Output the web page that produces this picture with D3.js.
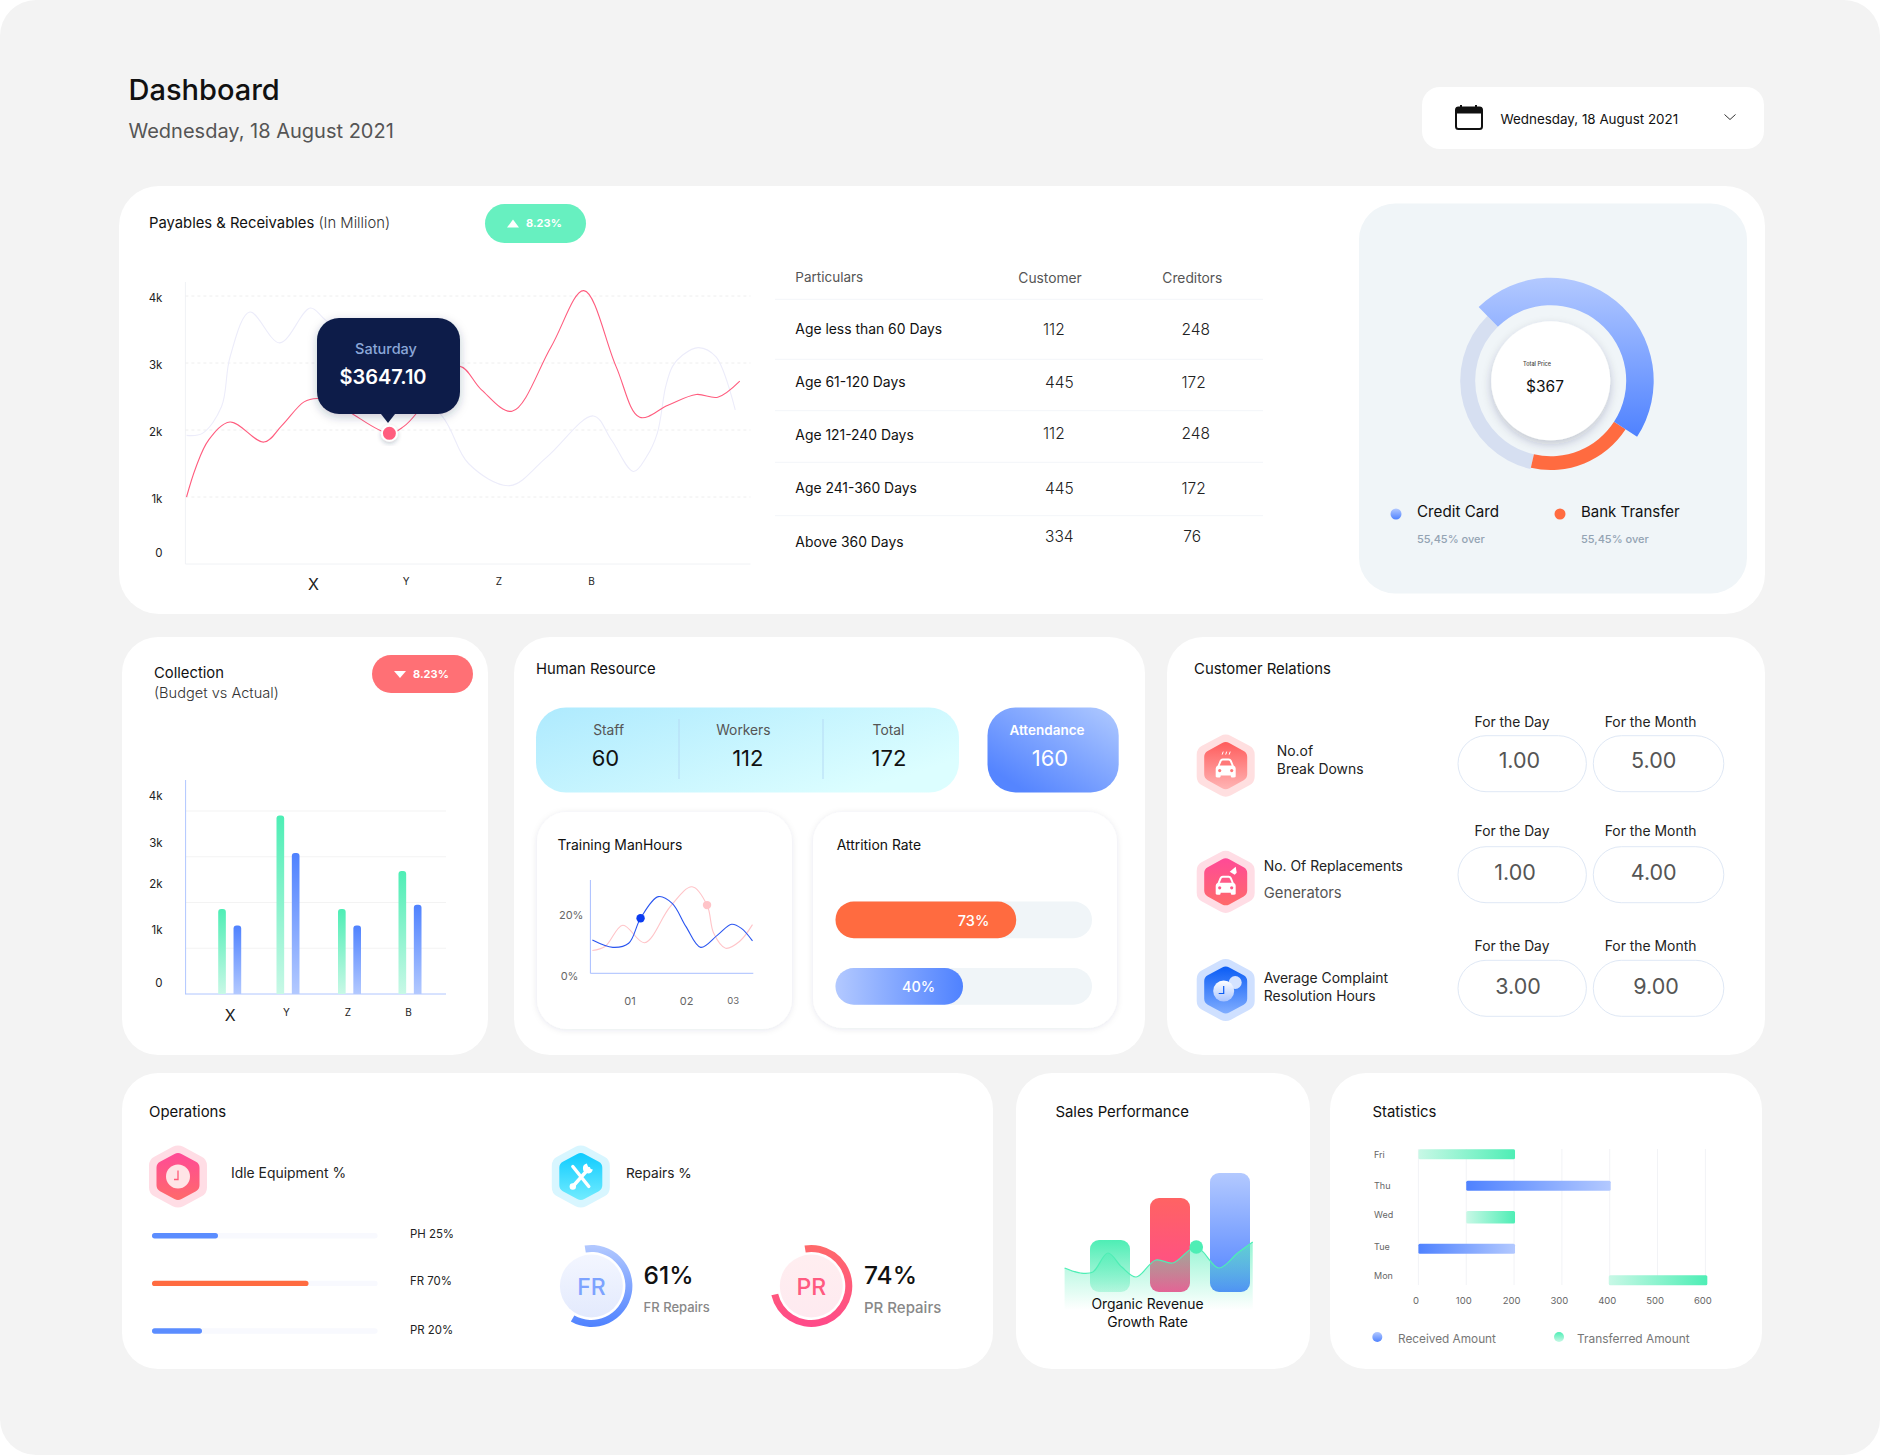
<!DOCTYPE html>
<html>
<head>
<meta charset="utf-8">
<title>Dashboard</title>
<script src="https://cdn.jsdelivr.net/npm/d3@7"></script>
<style>
  html, body { margin: 0; padding: 0; background: #fff; }
  svg { display: block; }
  text { font-family: Inter, "Noto Sans", sans-serif; }
  .domain { display: none; }
</style>
</head>
<body>
<div id="my_dataviz"></div>
<script>
// Payables & Receivables, t is a 0-100 position along the x axis, values in thousands
const payRedT = [0.2, 1.8, 4.1, 7.9, 13.9, 17.1, 21, 23.3, 26.3, 29.4, 36.1, 38.6, 40.9, 44, 48.6, 52.4, 57.8, 64.7, 70.5, 76.2, 80.4, 85.4, 90.4, 94.2, 98.1];
const payRed = [1.0, 1.43, 1.85, 2.12, 1.82, 2.07, 2.42, 2.47, 2.42, 2.25, 1.95, 2.05, 2.25, 2.65, 2.95, 2.6, 2.28, 3.24, 4.08, 2.95, 2.19, 2.37, 2.53, 2.49, 2.73];
const payFaintT = [0.2, 3, 6.4, 7.9, 11.4, 16.7, 22.1, 24.8, 34.8, 45.5, 50.1, 57.4, 64, 72.2, 75.4, 79.3, 81.6, 83.5, 85, 86.2, 88, 90.8, 93.9, 97.3];
const payFaint = [1.92, 1.95, 2.35, 3.09, 3.76, 3.3, 3.82, 3.64, 3.0, 2.2, 1.5, 1.17, 1.6, 2.21, 1.85, 1.38, 1.6, 1.95, 2.65, 2.95, 3.12, 3.23, 3.09, 2.3];
const markerIndex = 10;
const periodLabels = ["X", "Y", "Z", "B"];
const kTicks = [0, 1, 2, 3, 4];

// Table
const tableRows = ["Age less than 60 Days", "Age 61-120 Days", "Age 121-240 Days", "Age 241-360 Days", "Above 360 Days"];
const tableCustomer = [112, 445, 112, 445, 334];
const tableCreditors = [248, 172, 248, 172, 76];

// Donut, shares of the full circle in percent
const donutNames = ["Credit Card", "Bank Transfer", "Other"];
const donutShares = [46.5, 19.4, 34.1];

// Collection
const collectionBudget = [1.86, 3.9, 1.86, 2.69];
const collectionActual = [1.5, 3.08, 1.5, 1.95];

// Human resource
const hrLabels = ["Staff", "Workers", "Total"];
const hrValues = [60, 112, 172];
const hrAttendance = 160;
const trainBlueT = [0.12, 1.38, 2.35, 3.08, 4.17, 5.02, 5.87, 6.77, 7.82, 8.67, 9.27, 9.95];
const trainBlue = [11.4, 8.9, 10.3, 18.9, 26.3, 24, 16, 8.9, 13.2, 16.8, 15.4, 11.1];
const trainPinkT = [0.12, 0.9, 1.99, 3.33, 4.9, 6.24, 7.16, 7.57, 8.3, 9.15, 9.95];
const trainPink = [7.8, 9.2, 16.5, 10.5, 22.9, 29.7, 23.4, 13.7, 8.6, 10.9, 16.7];
const attrition = [73, 40];

// Customer relations
const crDay = ["1.00", "1.00", "3.00"];
const crMonth = ["5.00", "4.00", "9.00"];

// Operations
const idleLabels = ["PH 25%", "FR 70%", "PR 20%"];
const idleValues = [25, 70, 20];
const repairs = [61, 74];

// Sales performance
const salesBars = [52, 94, 119];
const salesLineT = [0, 8.5, 15, 23, 30.4, 38, 48.5, 57.5, 70, 82, 92, 100];
const salesLine = [24, 19, 20, 39, 25, 15, 32, 29, 45, 24, 39, 50];

// Statistics
const statDays = ["Fri", "Thu", "Wed", "Tue", "Mon"];
const statFrom = [0, 100, 100, 0, 398];
const statTo = [202, 402, 202, 202, 604];
const statKind = ["transferred", "received", "transferred", "received", "transferred"];
const statTicks = [0, 100, 200, 300, 400, 500, 600];

const W = 1880, H = 1455;
const green = "#4eeeb5", greenPale = "#c8f8e6", blue = "#4f82ff", bluePale = "#b3c9ff", orange = "#ff6b40";
const medium = 400;

const svg = d3.select("#my_dataviz").append("svg").attr("width", W).attr("height", H);
const defs = svg.append("defs");

function gradient(id, x1, y1, x2, y2, c1, c2) {
  const g = defs.append("linearGradient").attr("id", id)
    .attr("x1", x1).attr("y1", y1).attr("x2", x2).attr("y2", y2);
  g.append("stop").attr("offset", "0%").attr("stop-color", c1);
  g.append("stop").attr("offset", "100%").attr("stop-color", c2);
}
gradient("gGreenV", 0, 0, 0, 1, green, greenPale);
gradient("gBlueV", 0, 0, 0, 1, blue, bluePale);
gradient("gBlueVr", 0, 0, 0, 1, bluePale, blue);
gradient("gGreenH", 0, 0, 1, 0, greenPale, green);
gradient("gBlueH", 0, 0, 1, 0, blue, bluePale);
gradient("gBlueHr", 0, 0, 1, 0, bluePale, blue);
gradient("gPanel", 0, 0, 1, 0.6, "#aeeafe", "#dcfeff");
gradient("gAttend", 0.15, 0.85, 0.95, 0.05, "#5585ff", "#abc6ff");
gradient("gRed", 0, 0, 0, 1, "#ff6363", "#ff4a8f");
gradient("gPinkRing", 0, 0, 0, 1, "#ff6a6a", "#ff4a8a");
gradient("gArea", 0, 0, 0, 1, "rgba(78,238,181,0.6)", "rgba(78,238,181,0)");
gradient("gFrDisc", 0, 0, 0, 1, "#f3f6ff", "#e3eafd");
gradient("gPrDisc", 0, 0, 0, 1, "#ffeef0", "#feeaf0");
gradient("gHexRed", 0, 0, 0, 1, "#ff5c5c", "#ffb4b4");
gradient("gHexPink", 0, 0, 0, 1, "#ff4a97", "#ff6a6a");
gradient("gHexBlue", 0, 0, 0, 1, "#0a5cf5", "#80adff");
gradient("gHexCyan", 0, 0, 0, 1, "#0ecbff", "#72ecff");
gradient("gPaleDisc", 0, 0, 0, 1, "#ffffff", "#aac5ff");

function shadow(id, dy, blur, opacity) {
  defs.append("filter").attr("id", id)
    .attr("x", "-30%").attr("y", "-30%").attr("width", "160%").attr("height", "160%")
    .append("feDropShadow").attr("dx", 0).attr("dy", dy).attr("stdDeviation", blur)
    .attr("flood-color", "#1a2a50").attr("flood-opacity", opacity);
}
shadow("shTip", 3, 5, 0.25);
shadow("shDisc", 4, 5, 0.22);
shadow("shPanel", 1, 3, 0.1);
shadow("shDot", 2, 2, 0.25);

function label(g, x, y, s, size, opt) {
  opt = opt || {};
  return g.append("text").attr("x", x).attr("y", y + 0.8).text(s)
    .attr("font-size", size)
    .attr("font-weight", opt.weight || 400)
    .attr("fill", opt.fill || "#111")
    .attr("text-anchor", opt.anchor || "start");
}

function box(g, x0, y0, x1, y1, r, fill) {
  return g.append("rect").attr("x", x0).attr("y", y0)
    .attr("width", x1 - x0).attr("height", y1 - y0).attr("rx", r).attr("fill", fill);
}

// bar with only the top corners rounded
function topRound(x, y, w, h, r) {
  return "M" + x + "," + (y + h) + "V" + (y + r) + "Q" + x + "," + y + " " + (x + r) + "," + y +
    "H" + (x + w - r) + "Q" + (x + w) + "," + y + " " + (x + w) + "," + (y + r) + "V" + (y + h) + "Z";
}

function hexPath(cx, cy, w, h, r) {
  const pts = [[0, -h / 2], [w / 2, -h * 0.26], [w / 2, h * 0.26], [0, h / 2], [-w / 2, h * 0.26], [-w / 2, -h * 0.26]]
    .map(p => [cx + p[0], cy + p[1]]);
  let d = "";
  pts.forEach((p, i) => {
    const a = pts[(i + 5) % 6], b = pts[(i + 1) % 6];
    const la = Math.hypot(a[0] - p[0], a[1] - p[1]), lb = Math.hypot(b[0] - p[0], b[1] - p[1]);
    const p1 = [p[0] + (a[0] - p[0]) * r / la, p[1] + (a[1] - p[1]) * r / la];
    const p2 = [p[0] + (b[0] - p[0]) * r / lb, p[1] + (b[1] - p[1]) * r / lb];
    d += (i ? "L" : "M") + p1[0] + "," + p1[1] + "Q" + p[0] + "," + p[1] + " " + p2[0] + "," + p2[1];
  });
  return d + "Z";
}

function hexIcon(cx, cy, outerFill, innerFill) {
  const g = svg.append("g");
  g.append("path").attr("d", hexPath(cx, cy, 58, 65, 6)).attr("fill", outerFill);
  g.append("path").attr("d", hexPath(cx, cy, 43, 49, 4)).attr("fill", innerFill);
  return g.append("g").attr("transform", "translate(" + cx + "," + cy + ")");
}

function carIcon(g, windowFill) {
  g.append("path").attr("fill", "#fff")
    .attr("d", "M-10,9V1Q-10,-1 -8,-2L-6,-7Q-5,-9 -3,-9H3Q5,-9 6,-7L8,-2Q10,-1 10,1V9Q10,10 8,10H6Q5,10 5,8H-5Q-5,10 -6,10H-8Q-10,10 -10,9Z");
  g.append("path").attr("fill", windowFill).attr("d", "M-6,-2L-4,-6.5Q-3.5,-7 -3,-7H3Q3.5,-7 4,-6.5L6,-2Z");
  g.append("circle").attr("cx", -6).attr("cy", 3).attr("r", 1.6).attr("fill", windowFill);
  g.append("circle").attr("cx", 6).attr("cy", 3).attr("r", 1.6).attr("fill", windowFill);
}

function pill(x0, y0, x1, y1, fill, up, textX) {
  box(svg, x0, y0, x1, y1, (y1 - y0) / 2, fill);
  const cx = textX - 13, cy = (y0 + y1) / 2;
  svg.append("path").attr("fill", "#fff")
    .attr("d", up ? "M" + (cx - 6) + "," + (cy + 4) + "L" + cx + "," + (cy - 4) + "L" + (cx + 6) + "," + (cy + 4) + "Z"
                  : "M" + (cx - 6) + "," + (cy - 3) + "L" + cx + "," + (cy + 4) + "L" + (cx + 6) + "," + (cy - 3) + "Z");
  label(svg, textX, cy + 3, "8.23%", 11, {weight: 700, fill: "#fff"});
}

// page and header
box(svg, 0, 0, W, H, 36, "#f3f3f3");
label(svg, 128.5, 99, "Dashboard", 29, {weight: 500});
label(svg, 128.5, 137.5, "Wednesday, 18 August 2021", 20, {fill: "#555"});

box(svg, 1422, 87, 1764, 149, 18, "#fff");
const cal = svg.append("g");
cal.append("rect").attr("x", 1456).attr("y", 107.5).attr("width", 26).attr("height", 21.5).attr("rx", 2.5)
  .attr("fill", "#fff").attr("stroke", "#111").attr("stroke-width", 2);
cal.append("rect").attr("x", 1456).attr("y", 107.5).attr("width", 26).attr("height", 6).attr("fill", "#111");
cal.append("rect").attr("x", 1460).attr("y", 105).attr("width", 2).attr("height", 4).attr("fill", "#111");
cal.append("rect").attr("x", 1475).attr("y", 105).attr("width", 2).attr("height", 4).attr("fill", "#111");
label(svg, 1500.5, 123, "Wednesday, 18 August 2021", 13.4);
svg.append("path").attr("d", "M1724.5,114.5L1730,119.5L1735.5,114.5").attr("fill", "none").attr("stroke", "#333");

// cards
box(svg, 119, 186, 1765, 614, 40, "#fff");
box(svg, 122, 637, 488, 1055, 36, "#fff");
box(svg, 514, 637, 1145, 1055, 36, "#fff");
box(svg, 1167, 637, 1765, 1055, 36, "#fff");
box(svg, 122, 1073, 993, 1369, 36, "#fff");
box(svg, 1016, 1073, 1310, 1369, 36, "#fff");
box(svg, 1330, 1073, 1762, 1369, 36, "#fff");

// ---- Payables & Receivables ----
const t1 = label(svg, 149, 227, "Payables & Receivables ", 14.8, {weight: medium});
t1.append("tspan").text("(In Million)").attr("font-weight", 300).attr("fill", "#333");
pill(485, 204, 586, 243, "#67f0c0", true, 526);

const payX = d3.scaleLinear().domain([0, 100]).range([185.4, 750.5]);
const payY = d3.scaleLinear().domain([0, 4]).range([564, 296]);
const payPeriod = d3.scalePoint().domain(periodLabels).range([313, 591]);

const payG = svg.append("g");
payG.append("line").attr("x1", payX(0)).attr("x2", payX(0)).attr("y1", 282).attr("y2", 564).attr("stroke", "#f0f2f5");
payG.append("line").attr("x1", payX(0)).attr("x2", payX(100)).attr("y1", 564).attr("y2", 564).attr("stroke", "#f0f2f5");
payG.selectAll(".grid").data(kTicks.slice(1)).enter().append("line")
  .attr("x1", payX(0)).attr("x2", payX(100))
  .attr("y1", d => payY(d)).attr("y2", d => payY(d))
  .attr("stroke", "#eeeeee").attr("stroke-dasharray", "3,3");

payG.append("g").attr("transform", "translate(" + payX(0) + ",0)")
  .call(d3.axisLeft(payY).tickValues(kTicks).tickSize(0).tickPadding(23).tickFormat(d => d ? d + "k" : "0"))
  .selectAll("text").attr("font-size", 11.5).attr("font-weight", medium).attr("fill", "#222")
  .attr("font-family", "Inter").attr("y", d => d ? 2 : -11);
payG.append("g").attr("transform", "translate(0,564)")
  .call(d3.axisBottom(payPeriod).tickSize(0).tickPadding(13.5))
  .selectAll("text").attr("font-family", "Inter").attr("fill", "#222")
  .attr("font-size", d => d === "X" ? 16 : 10).attr("dy", d => d === "X" ? "0.75em" : "0.71em");

const payLine = d3.line().curve(d3.curveCatmullRom.alpha(0.5));
payG.append("path")
  .attr("d", payLine(payFaint.map((v, i) => [payX(payFaintT[i]), payY(v)])))
  .attr("fill", "none").attr("stroke", "#ececfa").attr("stroke-width", 1.1);
payG.append("path")
  .attr("d", payLine(payRed.map((v, i) => [payX(payRedT[i]), payY(v)])))
  .attr("fill", "none").attr("stroke", "#ff5c7e").attr("stroke-width", 1.1);

const markX = payX(payRedT[markerIndex]), markY = payY(payRed[markerIndex]);
payG.append("circle").attr("cx", markX).attr("cy", markY).attr("r", 7.5)
  .attr("fill", "#ff5c7e").attr("stroke", "#fff").attr("stroke-width", 2).attr("filter", "url(#shDot)");

// tooltip
const tip = svg.append("g");
box(tip, 317, 318, 460, 414, 22, "#0f1d49").attr("filter", "url(#shTip)");
tip.append("path").attr("d", "M381,414L388,423L395,414Z").attr("fill", "#0f1d49");
label(tip, 386, 353, "Saturday", 14.5, {weight: 500, fill: "#8ba7d8", anchor: "middle"});
label(tip, 383, 383, "$3647.10", 20, {weight: 600, fill: "#fff", anchor: "middle"});

// ---- table ----
label(svg, 795.3, 281, "Particulars", 13.5, {fill: "#555"});
label(svg, 1018.3, 282, "Customer", 13.8, {weight: medium, fill: "#555"});
label(svg, 1162.3, 282, "Creditors", 13.8, {weight: medium, fill: "#555"});
const ruleY = [299.3, 359.3, 410.7, 462.3, 515.7];
const rowY = [332.7, 385.7, 438.7, 491.7, 545.7];
const custY = [334, 387, 438, 493, 541];
svg.selectAll(".rule").data(ruleY).enter().append("line")
  .attr("x1", 775).attr("x2", 1263).attr("y1", d => d).attr("y2", d => d)
  .attr("stroke", "#f3f6f9");
tableRows.forEach((r, i) => {
  label(svg, 795.3, rowY[i], r, 13.9, {weight: medium});
  label(svg, tableCustomer[i] === 112 ? 1043 : 1045, custY[i], tableCustomer[i], 15.5, {weight: 300, fill: "#222"});
  label(svg, tableCreditors[i] === 76 ? 1183.3 : 1181.5, custY[i], tableCreditors[i], 15.5, {weight: 300, fill: "#222"});
});

// ---- donut ----
box(svg, 1359, 203.5, 1747, 593.5, 36, "#f0f5f8");
const donutG = svg.append("g").attr("transform", "translate(1550.7,380.7)");
const pie = d3.pie().sort(null).startAngle(-44.4 * Math.PI / 180).endAngle((360 - 44.4) * Math.PI / 180);
const donutArcs = pie(donutShares);
const donutInner = [75.5, 75.5, 75.5];
const donutOuter = [103, 89.3, 90.5];
const donutFill = ["url(#gBlueVr)", orange, "#d6dff1"];
[2, 1, 0].forEach(i => {
  donutG.append("path")
    .attr("d", d3.arc().innerRadius(donutInner[i]).outerRadius(donutOuter[i])(donutArcs[i]))
    .attr("fill", donutFill[i]);
});
svg.append("circle").attr("cx", 1550.7).attr("cy", 380.7).attr("r", 59.5).attr("fill", "#fff").attr("filter", "url(#shDisc)");
label(svg, 1537, 365.5, "Total Price", 5.5, {weight: 500, anchor: "middle", fill: "#444"});
label(svg, 1545, 391.5, "$367", 15.5, {anchor: "middle"});
svg.append("circle").attr("cx", 1396).attr("cy", 514).attr("r", 5.5).attr("fill", "url(#gBlueVr)");
svg.append("circle").attr("cx", 1560).attr("cy", 514).attr("r", 5.5).attr("fill", orange);
label(svg, 1417, 516, donutNames[0], 15.2);
label(svg, 1581, 516, donutNames[1], 15);
label(svg, 1417, 542, "55,45% over", 11, {weight: 500, fill: "#93a3b3"});
label(svg, 1581, 542, "55,45% over", 11, {weight: 500, fill: "#93a3b3"});

// ---- Collection ----
label(svg, 154, 677, "Collection", 14.8, {weight: medium});
label(svg, 154, 697, "(Budget vs Actual)", 14.6, {weight: 300, fill: "#333"});
pill(372, 655, 473, 693, "#ff7075", false, 413);

const colY = d3.scaleLinear().domain([0, 4]).range([994, 811]);
const colX = d3.scaleOrdinal(periodLabels, [229.7, 288, 349.5, 410]);
const colSub = d3.scaleBand().domain([0, 1]).range([-11.5, 11.5]).paddingInner(0.5);
const colLabelShift = [-11, -18, -18.5, -14, -15];
const colG = svg.append("g");
colG.selectAll(".grid").data(kTicks.slice(1)).enter().append("line")
  .attr("x1", 186).attr("x2", 446).attr("y1", d => colY(d)).attr("y2", d => colY(d)).attr("stroke", "#f3f3f3");
colG.append("line").attr("x1", 185.6).attr("x2", 185.6).attr("y1", 780).attr("y2", 994).attr("stroke", "#b0c6ff");
colG.append("line").attr("x1", 185).attr("x2", 446).attr("y1", 994).attr("y2", 994).attr("stroke", "#b0c6ff");
colG.append("g").attr("transform", "translate(185.6,0)")
  .call(d3.axisLeft(colY).tickValues(kTicks).tickSize(0).tickPadding(23).tickFormat(d => d ? d + "k" : "0"))
  .selectAll("text").attr("font-size", 11.5).attr("font-weight", medium).attr("fill", "#222")
  .attr("font-family", "Inter").attr("y", d => colLabelShift[d]);
colG.append("g").attr("transform", "translate(0,994)")
  .call(d3.axisBottom(colX).tickSize(0).tickPadding(15))
  .selectAll("text").attr("font-family", "Inter").attr("fill", "#222")
  .attr("x", d => d === "X" ? 0 : -2)
  .attr("font-size", d => d === "X" ? 16 : 10).attr("dy", d => d === "X" ? "0.75em" : "0.71em");
[collectionBudget, collectionActual].forEach((series, k) => {
  colG.selectAll(".bar" + k).data(series).enter().append("path")
    .attr("d", (d, i) => topRound(colX(periodLabels[i]) + colSub(k), colY(d), colSub.bandwidth(), 994 - colY(d), 3))
    .attr("fill", k ? "url(#gBlueV)" : "url(#gGreenV)");
});

// ---- Human Resource ----
label(svg, 536, 673, "Human Resource", 14.8, {weight: medium});
box(svg, 536, 707.5, 959, 792.5, 30, "url(#gPanel)");
box(svg, 987.5, 707.5, 1118.7, 792.5, 28, "url(#gAttend)");
const hrLabelX = [608.6, 743.4, 888.5], hrValueX = [605.4, 747.8, 889];
hrLabels.forEach((s, i) => {
  label(svg, hrLabelX[i], 734, s, 13.8, {weight: medium, fill: "#555", anchor: "middle"});
  label(svg, hrValueX[i], 765, hrValues[i], 22, {anchor: "middle"});
});
[679, 823].forEach(x => svg.append("line").attr("x1", x).attr("x2", x).attr("y1", 719).attr("y2", 779).attr("stroke", "#b5daf5"));
label(svg, 1047, 734, "Attendance", 13.5, {weight: 600, fill: "#fff", anchor: "middle"});
label(svg, 1050, 765, hrAttendance, 22, {weight: medium, fill: "#fff", anchor: "middle"});

box(svg, 537, 812, 792, 1029, 30, "#fff").attr("filter", "url(#shPanel)");
box(svg, 813, 812, 1117, 1028, 30, "#fff").attr("filter", "url(#shPanel)");
label(svg, 557.6, 849, "Training ManHours", 13.9, {weight: medium});
label(svg, 836.7, 849, "Attrition Rate", 13.9, {weight: medium});

const trX = d3.scaleLinear().domain([0, 10]).range([590.4, 753.3]);
const trY = d3.scaleLinear().domain([0, 20]).range([973.3, 915]);
const trG = svg.append("g");
trG.append("line").attr("x1", trX(0)).attr("x2", trX(0)).attr("y1", 880).attr("y2", 973.3).attr("stroke", "#a8beff");
trG.append("line").attr("x1", trX(0)).attr("x2", trX(10)).attr("y1", 973.3).attr("y2", 973.3).attr("stroke", "#a8beff");
trG.append("g").attr("transform", "translate(590.4,0)")
  .call(d3.axisLeft(trY).tickValues([0, 20]).tickSize(0).tickPadding(9).tickFormat(d => d + "%"))
  .selectAll("text").attr("font-family", "Inter").attr("font-size", 11).attr("fill", "#666")
  .attr("y", d => d ? 0 : 3).attr("x", d => d ? -7 : -12);
trG.append("g").attr("transform", "translate(0,973.3)")
  .call(d3.axisBottom(trX).tickValues([2.4, 5.87, 8.74]).tickSize(0).tickPadding(24)
    .tickFormat((d, i) => "0" + (i + 1)))
  .selectAll("text").attr("font-family", "Inter").attr("font-size", (d, i) => i === 2 ? 9.5 : 11).attr("fill", "#666");
const trLine = d3.line().curve(d3.curveCatmullRom.alpha(0.5));
trG.append("path").attr("d", trLine(trainPink.map((v, i) => [trX(trainPinkT[i]), trY(v)])))
  .attr("fill", "none").attr("stroke", "#ffc4c8").attr("stroke-width", 1.1);
trG.append("path").attr("d", trLine(trainBlue.map((v, i) => [trX(trainBlueT[i]), trY(v)])))
  .attr("fill", "none").attr("stroke", "#2a55f0").attr("stroke-width", 1.1);
trG.append("circle").attr("cx", trX(trainBlueT[3])).attr("cy", trY(trainBlue[3])).attr("r", 4.2).attr("fill", "#0b3bf0");
trG.append("circle").attr("cx", trX(trainPinkT[6])).attr("cy", trY(trainPink[6])).attr("r", 4.2).attr("fill", "#ffc4c8");

// the bars in the picture do not start at zero length, so the scale is read off the two bars
const attrW = d3.scaleLinear().domain([40, 73]).range([127.5, 180.7]);
const attrY = [901.5, 968];
const attrFill = [orange, "url(#gBlueHr)"];
const attrText = [973.6, 918.6];
attrition.forEach((v, i) => {
  box(svg, 835.5, attrY[i], 1092, attrY[i] + 36.7, 18.3, "#f0f5f8");
  box(svg, 835.5, attrY[i], 835.5 + attrW(v), attrY[i] + 36.7, 18.3, attrFill[i]);
  label(svg, attrText[i], attrY[i] + 23.5, v + "%", 14.5, {weight: 500, fill: "#fff", anchor: "middle"});
});

// ---- Customer Relations ----
label(svg, 1194, 673, "Customer Relations", 14.9, {weight: medium});
const crHexY = [765.6, 881.8, 990];
const crHead = [726, 835, 950];
const crPillY = [735.7, 846.7, 960.3];
const crBase = [766.7, 879, 993];
const crDayX = [1519.4, 1515, 1518], crMonthX = [1653.7, 1653.7, 1656];
crHexY.forEach((cy, i) => {
  label(svg, 1474.6, crHead[i], "For the Day", 13.8, {weight: medium, fill: "#222"});
  label(svg, 1604.7, crHead[i], "For the Month", 13.9, {weight: medium, fill: "#222"});
  box(svg, 1458, crPillY[i], 1586.4, crPillY[i] + 56, 28, "#fff").attr("stroke", "#dfe8f5");
  box(svg, 1593.3, crPillY[i], 1723.8, crPillY[i] + 56, 28, "#fff").attr("stroke", "#dfe8f5");
  label(svg, crDayX[i], crBase[i], crDay[i], 21.5, {fill: "#555", anchor: "middle"});
  label(svg, crMonthX[i], crBase[i], crMonth[i], 21.5, {fill: "#555", anchor: "middle"});
});

const carA = hexIcon(1225.7, 765.6, "#ffdfe0", "url(#gHexRed)");
carA.append("g").attr("transform", "translate(0,2)").call(g => carIcon(g, "#ff7878"));
carA.append("path").attr("d", "M-3.5,-11L-2.5,-14M0,-11L1,-14M3.5,-11L4.5,-14").attr("stroke", "#fff").attr("stroke-width", 1).attr("fill", "none");
label(svg, 1276.8, 755, "No.of", 13.9, {weight: medium, fill: "#222"});
label(svg, 1276.8, 773, "Break Downs", 13.9, {weight: medium, fill: "#222"});

const carB = hexIcon(1225.7, 881.8, "#ffdde5", "url(#gHexPink)");
carB.append("g").attr("transform", "translate(0,3)").call(g => carIcon(g, "#ff5a88"));
carB.append("path").attr("d", "M9,-7L4,-10L10,-15L11,-9Z").attr("fill", "#fff");
label(svg, 1263.8, 870, "No. Of Replacements", 13.9, {weight: medium, fill: "#222"});
label(svg, 1263.8, 897, "Generators", 14.8, {fill: "#555"});

const clockA = hexIcon(1225.7, 990, "#cfe0ff", "url(#gHexBlue)");
clockA.append("circle").attr("cx", 9.5).attr("cy", -7.5).attr("r", 6.5).attr("fill", "#d5e3ff");
clockA.append("circle").attr("cx", -2).attr("cy", 1).attr("r", 10.5).attr("fill", "url(#gPaleDisc)");
clockA.append("path").attr("d", "M-2,-4V3.5H-7").attr("fill", "none").attr("stroke", "#0a5cf5").attr("stroke-width", 1.2);
label(svg, 1263.8, 981.7, "Average Complaint", 13.9, {weight: medium, fill: "#222"});
label(svg, 1263.8, 1000, "Resolution Hours", 13.9, {weight: medium, fill: "#222"});

// ---- Operations ----
label(svg, 149, 1116, "Operations", 14.9, {weight: medium});
const idleIcon = hexIcon(178, 1176.5, "#ffdde5", "url(#gHexPink)");
idleIcon.append("circle").attr("r", 12).attr("fill", "#ffe4e6");
idleIcon.append("path").attr("d", "M0,-6V3H-4").attr("fill", "none").attr("stroke", "#ff5a78").attr("stroke-width", 1.3);
label(svg, 231, 1177, "Idle Equipment %", 13.9, {weight: medium, fill: "#222"});

const repIcon = hexIcon(580.8, 1176.5, "#d8f6ff", "url(#gHexCyan)");
repIcon.append("path").attr("d", "M-8,-10L8,10M8,-8L-8,10").attr("stroke", "#fff").attr("stroke-width", 3.4).attr("stroke-linecap", "round").attr("fill", "none");
repIcon.append("path").attr("d", "M6,-13A5,5 0 1 0 12,-7L8,-8Z").attr("fill", "#fff");
repIcon.append("circle").attr("cx", -8).attr("cy", 10).attr("r", 3.2).attr("fill", "#fff");
label(svg, 626, 1177, "Repairs %", 13.7, {weight: medium, fill: "#222"});

// lengths
const idleW = d3.scaleLinear().domain([20, 25, 70]).range([50, 66, 156.5]);
const idleY = [1233, 1280.7, 1328.3];
const idleFill = ["#5b8dff", orange, "#5b8dff"];
const idleText = [1237, 1284, 1333];
idleValues.forEach((v, i) => {
  box(svg, 152, idleY[i], 377.6, idleY[i] + 5.4, 2.7, "#f8f9fe");
  box(svg, 152, idleY[i], 152 + idleW(v), idleY[i] + 5.4, 2.7, idleFill[i]);
  label(svg, 410, idleText[i], idleLabels[i], 11.4, {weight: medium, fill: "#222"});
});

const ringStart = -9.5 * Math.PI / 180;
function repairRing(cx, cy, pct, ringFill, discFill, tag, tagFill, textX, nameY, name, nameSize) {
  const g = svg.append("g").attr("transform", "translate(" + cx + "," + cy + ")");
  g.append("path")
    .attr("d", d3.arc().innerRadius(34).outerRadius(41).startAngle(ringStart).endAngle(ringStart + pct / 100 * 2 * Math.PI)())
    .attr("fill", ringFill);
  g.append("circle").attr("r", 31.5).attr("fill", discFill);
  label(g, 0, 8, tag, 23, {weight: 500, fill: tagFill, anchor: "middle"});
  label(svg, textX, 1283, pct + "%", 24.5, {weight: 500});
  label(svg, textX, nameY, name, nameSize, {weight: 500, fill: "#888"});
}
repairRing(591.4, 1286, repairs[0], "url(#gBlueVr)", "url(#gFrDisc)", "FR", "#7da3ff", 643.6, 1311, "FR Repairs", 13);
repairRing(811.3, 1286, repairs[1], "url(#gPinkRing)", "url(#gPrDisc)", "PR", "#ff5a80", 864, 1312, "PR Repairs", 15);

// ---- Sales Performance ----
label(svg, 1055.4, 1116, "Sales Performance", 14.9, {weight: medium});
const saY = d3.scaleLinear().domain([0, 120]).range([1292, 1172]);
const saBand = d3.scaleBand().domain([0, 1, 2]).range([1090, 1250]).paddingInner(1 / 3);
const saX = d3.scaleLinear().domain([0, 100]).range([1064.6, 1252.7]);
const saFill = ["url(#gGreenV)", "url(#gRed)", "url(#gBlueVr)"];
svg.selectAll(".sales").data(salesBars).enter().append("rect")
  .attr("x", (d, i) => saBand(i)).attr("y", d => saY(d))
  .attr("width", saBand.bandwidth()).attr("height", d => 1292 - saY(d))
  .attr("rx", 9).attr("fill", (d, i) => saFill[i]);
const saPoints = salesLine.map((v, i) => ({t: salesLineT[i], v: v}));
svg.append("path").datum(saPoints)
  .attr("d", d3.area().curve(d3.curveCatmullRom.alpha(0.5)).x(d => saX(d.t)).y0(saY(-18)).y1(d => saY(d.v)))
  .attr("fill", "url(#gArea)");
svg.append("path").datum(saPoints)
  .attr("d", d3.line().curve(d3.curveCatmullRom.alpha(0.5)).x(d => saX(d.t)).y(d => saY(d.v)))
  .attr("fill", "none").attr("stroke", green).attr("stroke-width", 1.2);
svg.append("circle").attr("cx", saX(salesLineT[8])).attr("cy", saY(salesLine[8])).attr("r", 6.8).attr("fill", green);
label(svg, 1147.5, 1308, "Organic Revenue", 13.9, {weight: medium, anchor: "middle"});
label(svg, 1147.5, 1326, "Growth Rate", 13.9, {weight: medium, anchor: "middle"});

// ---- Statistics ----
label(svg, 1372.4, 1116, "Statistics", 14.9, {weight: medium});
const stX = d3.scaleLinear().domain([0, 600]).range([1418.4, 1705.4]);
const stY = d3.scaleBand().domain(statDays).range([1138.5, 1296]);
const stLabelShift = [1.5, 1, -1.6, -0.7, -3.5];
const stG = svg.append("g");
stG.selectAll(".grid").data(statTicks).enter().append("line")
  .attr("x1", d => stX(d)).attr("x2", d => stX(d)).attr("y1", 1149).attr("y2", 1285).attr("stroke", "#f2f3f6");
stG.append("g").attr("transform", "translate(0,1285)")
  .call(d3.axisBottom(stX).tickValues(statTicks).tickSize(0).tickPadding(12))
  .selectAll("text").attr("font-family", "Inter").attr("font-size", 9.5).attr("fill", "#666").attr("x", -3);
stG.append("g").attr("transform", "translate(1374,0)")
  .call(d3.axisLeft(stY).tickSize(0).tickPadding(0))
  .selectAll("text").attr("font-family", "Inter").attr("font-size", 9).attr("fill", "#666")
  .attr("text-anchor", "start").attr("x", 0).attr("y", (d, i) => stLabelShift[i] - 1);
statDays.forEach((day, i) => {
  const h = day === "Wed" ? 12.4 : 10;
  stG.append("rect")
    .attr("x", stX(statFrom[i])).attr("width", stX(statTo[i]) - stX(statFrom[i]))
    .attr("y", stY(day) + stY.bandwidth() / 2 - h / 2).attr("height", h).attr("rx", 1.5)
    .attr("fill", statKind[i] === "received" ? "url(#gBlueH)" : "url(#gGreenH)");
});
svg.append("circle").attr("cx", 1377.3).attr("cy", 1337).attr("r", 5).attr("fill", "url(#gBlueVr)");
svg.append("circle").attr("cx", 1559).attr("cy", 1337).attr("r", 5).attr("fill", "url(#gGreenV)");
label(svg, 1398, 1342, "Received Amount", 11.8, {weight: medium, fill: "#777"});
label(svg, 1577, 1342, "Transferred Amount", 11.9, {weight: medium, fill: "#777"});
</script>
</body>
</html>
